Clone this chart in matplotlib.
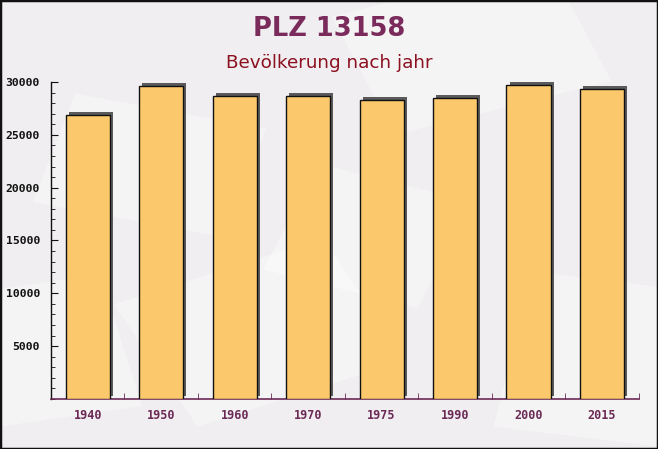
import matplotlib
matplotlib.use("Agg")
import matplotlib.pyplot as plt
import matplotlib.patheffects as pe
from matplotlib.patches import Rectangle
from matplotlib.ticker import MultipleLocator

years = ["1940", "1950", "1960", "1970", "1975", "1990", "2000", "2015"]
population = [26900, 29600, 28650, 28650, 28300, 28500, 29700, 29350]
y_ticks = [5000, 10000, 15000, 20000, 25000, 30000]

title = "PLZ 13158"
subtitle = "Bevölkerung nach jahr"

fig = plt.figure(figsize=(6.58, 4.49), dpi=100)
fig.patch.set_facecolor("#f0eef0")

# faint decorative background shapes
for (x, y, w, h, a) in [(0.05, 0.55, 0.30, 0.25, -15), (0.60, 0.70, 0.35, 0.28, 20),
                         (0.30, 0.05, 0.35, 0.30, 25), (0.75, 0.05, 0.25, 0.35, -10),
                         (0.00, 0.05, 0.22, 0.30, 12), (0.40, 0.40, 0.25, 0.25, -20)]:
    fig.patches.append(Rectangle((x, y), w, h, angle=a, transform=fig.transFigure,
                                 facecolor="white", alpha=0.4, edgecolor="none", zorder=-10))

ax = fig.add_axes([0.0775, 0.1114, 0.8932, 0.706])
ax.set_facecolor("none")
ax.set_zorder(1)

x = list(range(len(years)))
bars = ax.bar(x, population, width=0.6, color="#fcc86c", edgecolor="#111111",
              linewidth=1.0, zorder=3)
for b in bars:
    b.set_path_effects([pe.SimplePatchShadow(offset=(2.3, 2.3), shadow_rgbFace="#4a4a4a",
                                             alpha=0.9), pe.Normal()])

ax.set_xlim(-0.5, len(years) - 0.5)
ax.set_ylim(0, 30000)
ax.set_yticks(y_ticks)
ax.yaxis.set_minor_locator(MultipleLocator(1000))
ax.set_xticks(x)
ax.set_xticklabels(years)
ax.set_xticks([i + 0.5 for i in x], minor=True)

for s in ["top", "right"]:
    ax.spines[s].set_visible(False)
ax.spines["left"].set_color("#111111")
ax.spines["bottom"].set_color("#6b2a55")
ax.spines["left"].set_linewidth(1.0)
ax.spines["bottom"].set_linewidth(1.2)

ax.tick_params(axis="y", which="major", direction="in", length=5, color="#111111",
               labelsize=8.2, labelcolor="#111111", pad=8)
ax.tick_params(axis="y", which="minor", direction="in", length=3, color="#111111")
ax.tick_params(axis="x", which="major", length=0, labelsize=8.5, labelcolor="#6b2a55", pad=7)
ax.tick_params(axis="x", which="minor", direction="in", length=4, color="#6b2a55")
for lab in ax.get_xticklabels() + ax.get_yticklabels():
    lab.set_fontfamily("DejaVu Sans Mono")
    lab.set_fontweight("bold")

fig.text(0.5, 0.935, title, ha="center", va="center", fontsize=18.5, fontweight="bold",
         color="#7a2b5b")
fig.text(0.5, 0.86, subtitle, ha="center", va="center", fontsize=13.2, color="#8b1020")

fig.patches.append(Rectangle((0, 0), 1, 1, transform=fig.transFigure, fill=False,
                             edgecolor="#111111", linewidth=2.5, zorder=10))

fig.savefig("out.png", dpi=100, facecolor=fig.get_facecolor())
